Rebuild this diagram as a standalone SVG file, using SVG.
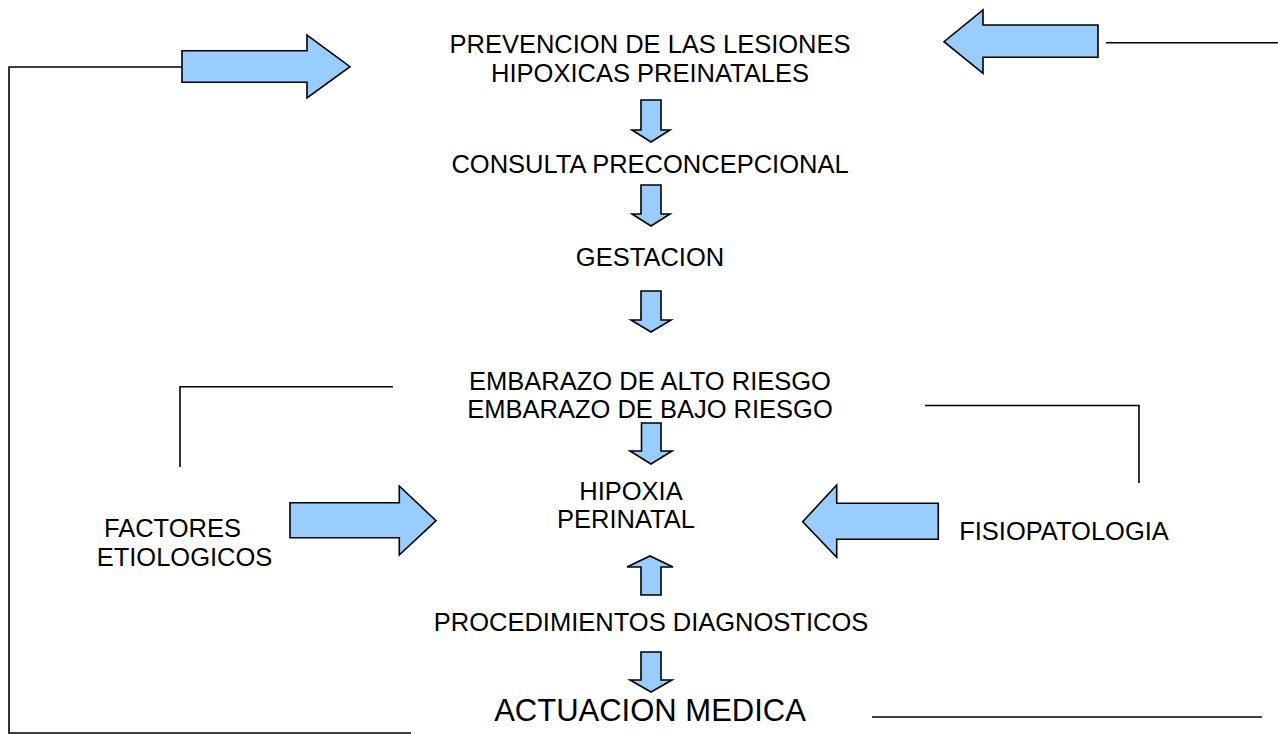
<svg xmlns="http://www.w3.org/2000/svg" width="1278" height="734" viewBox="0 0 1278 734">
<style>
.t{font-family:"Liberation Sans",Arial,sans-serif;font-size:25.5px;fill:#000;text-anchor:middle}
.arr{fill:#99ccff;stroke:#000;stroke-width:1.6;stroke-linejoin:miter}
.ln{fill:none;stroke:#000;stroke-width:1.6}
</style>
<rect width="1278" height="734" fill="#fff"/>
<g id="connectors">
<polyline class="ln" points="182,67 9,67 9,733 411,733"/>
<line class="ln" x1="1106" y1="42.7" x2="1278" y2="42.7"/>
<polyline class="ln" points="180,467 180,386.7 393,386.7"/>
<polyline class="ln" points="925,405.5 1139,405.5 1139,483"/>
<line class="ln" x1="872" y1="717" x2="1262" y2="717"/>
</g>
<g id="arrow-top-left"><polygon class="arr" points="182,50.7 307,50.7 307,35 350,66.7 307,98 307,82.3 182,82.3"/></g>
<g id="arrow-top-right"><polygon class="arr" points="1098,25 983,25 983,10 944,41.7 983,73.3 983,57.3 1098,57.3"/></g>
<g id="arrow-left-mid"><polygon class="arr" points="290,502.7 399.3,502.7 399.3,486 436,520.7 399.3,555 399.3,537.7 290,537.7"/></g>
<g id="arrow-right-mid"><polygon class="arr" points="938.3,503.3 836.7,503.3 836.7,485 802.7,521.7 836.7,557.3 836.7,539.3 938.3,539.3"/></g>
<g id="down1"><polygon class="arr" points="641,100 661,100 661,130 670,130 651,142 632,130 641,130"/></g>
<g id="down2"><polygon class="arr" points="641,185 661,185 661,214 670,214 651,226 632,214 641,214"/></g>
<g id="down3"><polygon class="arr" points="641,291 661,291 661,320 671,320 651,332 631,320 641,320"/></g>
<g id="down4"><polygon class="arr" points="641.5,423 661,423 661,451 672,451 651,464 630,451 641.5,451"/></g>
<g id="up1"><polygon class="arr" points="641,595 661,595 661,567 673,567 650,556 627,567 641,567"/></g>
<g id="down5"><polygon class="arr" points="641,652 661,652 661,680 672,680 651,692 630,680 641,680"/></g>
<g id="n-prevencion"><text class="t" x="650" y="53">PREVENCION DE LAS LESIONES</text><text class="t" x="650" y="82">HIPOXICAS PREINATALES</text></g>
<g id="n-consulta"><text class="t" x="650" y="173">CONSULTA PRECONCEPCIONAL</text></g>
<g id="n-gestacion"><text class="t" x="650" y="266">GESTACION</text></g>
<g id="n-embarazo"><text class="t" x="650" y="390">EMBARAZO DE ALTO RIESGO</text><text class="t" x="650" y="418">EMBARAZO DE BAJO RIESGO</text></g>
<g id="n-hipoxia"><text class="t" x="631" y="500">HIPOXIA</text><text class="t" x="626" y="528">PERINATAL</text></g>
<g id="n-factores"><text class="t" x="172.5" y="537">FACTORES</text><text class="t" x="184.5" y="566">ETIOLOGICOS</text></g>
<g id="n-fisio"><text class="t" x="1064" y="540">FISIOPATOLOGIA</text></g>
<g id="n-proc"><text class="t" x="651" y="631">PROCEDIMIENTOS DIAGNOSTICOS</text></g>
<g id="n-actuacion"><text class="t" x="650" y="721" style="font-size:31px">ACTUACION MEDICA</text></g>
</svg>
